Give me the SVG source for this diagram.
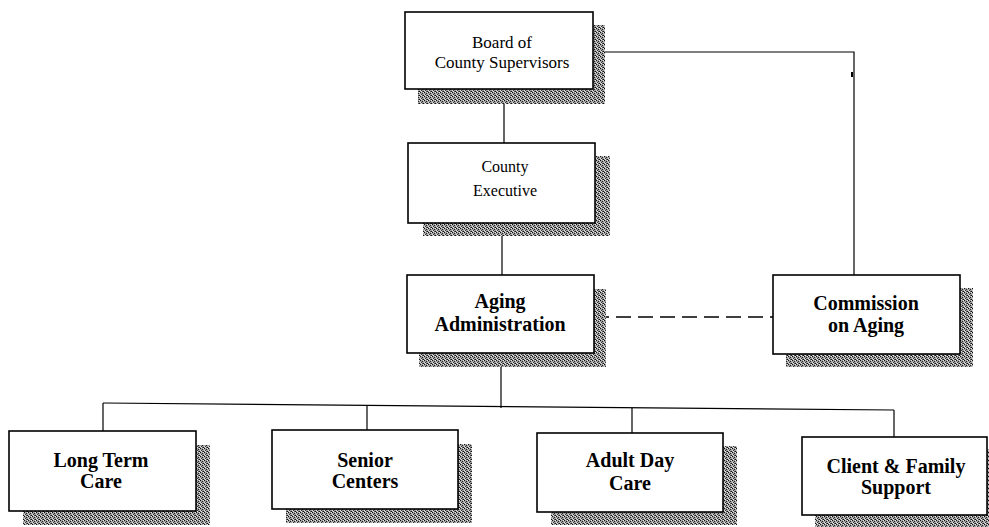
<svg xmlns="http://www.w3.org/2000/svg" width="989" height="527" viewBox="0 0 989 527">
  <defs>
    <!-- stippled grey fill used for the drop shadows -->
    <pattern id="stipple" width="4" height="4" patternUnits="userSpaceOnUse">
      <rect width="4" height="4" fill="#a0a0a0"/>
      <rect x="0" y="0" width="1" height="1" fill="#111"/>
      <rect x="2" y="1" width="1" height="1" fill="#222"/>
      <rect x="1" y="2" width="1" height="1" fill="#333"/>
      <rect x="3" y="3" width="1" height="1" fill="#111"/>
      <rect x="2" y="3" width="1" height="1" fill="#555"/>
      <rect x="3" y="0" width="1" height="1" fill="#e8e8e8"/>
      <rect x="1" y="3" width="1" height="1" fill="#e8e8e8"/>
      <rect x="0" y="2" width="1" height="1" fill="#dcdcdc"/>
    </pattern>
  </defs>
  <style>
    .shadow { fill: url(#stipple); }
    .box { fill: #fff; stroke: #000; stroke-width: 1.6; }
    .line { fill: none; stroke: #000; stroke-width: 1.2; }
    .dash { fill: none; stroke: #000; stroke-width: 1.4; stroke-dasharray: 15 7; }
    .t { font-family: "Liberation Serif", "Times New Roman", serif; fill: #000; text-anchor: middle; }
    .small { font-size: 16px; }
    .board { font-size: 17px; }
    .big { font-size: 20px; font-weight: bold; }
  </style>

  <rect width="989" height="527" fill="#fff"/>

  <!-- connectors -->
  <g id="connectors">
    <path class="line" d="M504 89 V143"/>
    <path class="line" d="M502 223 V275"/>
    <path class="line" d="M593 52 H854 V275"/>
    <path class="dash" d="M594 317 H773"/>
    <path class="line" d="M501 353 V408"/>
    <path class="line" d="M103 403 L894 410"/>
    <path class="line" d="M103 403 V431"/>
    <path class="line" d="M367 405 V430"/>
    <path class="line" d="M632 408 V433"/>
    <path class="line" d="M894 410 V437"/>
    <rect x="851" y="72" width="2" height="5" fill="#000"/>
  </g>

  <g id="board">
    <rect class="shadow" x="418" y="25" width="187" height="79"/>
    <rect class="box" x="405" y="12" width="188" height="77"/>
    <text class="t board" x="502" y="48">Board of</text>
    <text class="t board" x="502" y="68">County Supervisors</text>
  </g>

  <g id="county-executive">
    <rect class="shadow" x="423" y="156" width="187" height="80"/>
    <rect class="box" x="408" y="143" width="187" height="80"/>
    <text class="t small" x="505" y="172">County</text>
    <text class="t small" x="505" y="196">Executive</text>
  </g>

  <g id="aging-administration">
    <rect class="shadow" x="419" y="289" width="187" height="78"/>
    <rect class="box" x="407" y="275" width="187" height="78"/>
    <text class="t big" x="500" y="308">Aging</text>
    <text class="t big" x="500" y="331">Administration</text>
  </g>

  <g id="commission-on-aging">
    <rect class="shadow" x="786" y="288" width="187" height="79"/>
    <rect class="box" x="773" y="275" width="187" height="79"/>
    <text class="t big" x="866" y="310">Commission</text>
    <text class="t big" x="866" y="332">on Aging</text>
  </g>

  <g id="long-term-care">
    <rect class="shadow" x="23" y="445" width="187" height="80"/>
    <rect class="box" x="9" y="431" width="187" height="80"/>
    <text class="t big" x="101" y="467">Long Term</text>
    <text class="t big" x="101" y="488">Care</text>
  </g>

  <g id="senior-centers">
    <rect class="shadow" x="286" y="444" width="186" height="79"/>
    <rect class="box" x="272" y="430" width="186" height="79"/>
    <text class="t big" x="365" y="467">Senior</text>
    <text class="t big" x="365" y="488">Centers</text>
  </g>

  <g id="adult-day-care">
    <rect class="shadow" x="551" y="446" width="186" height="79"/>
    <rect class="box" x="537" y="433" width="186" height="79"/>
    <text class="t big" x="630" y="467">Adult Day</text>
    <text class="t big" x="630" y="490">Care</text>
  </g>

  <g id="client-family-support">
    <rect class="shadow" x="815" y="449" width="186" height="78"/>
    <rect class="box" x="802" y="437" width="185" height="78"/>
    <text class="t big" x="896" y="473">Client &amp; Family</text>
    <text class="t big" x="896" y="494">Support</text>
  </g>
</svg>
